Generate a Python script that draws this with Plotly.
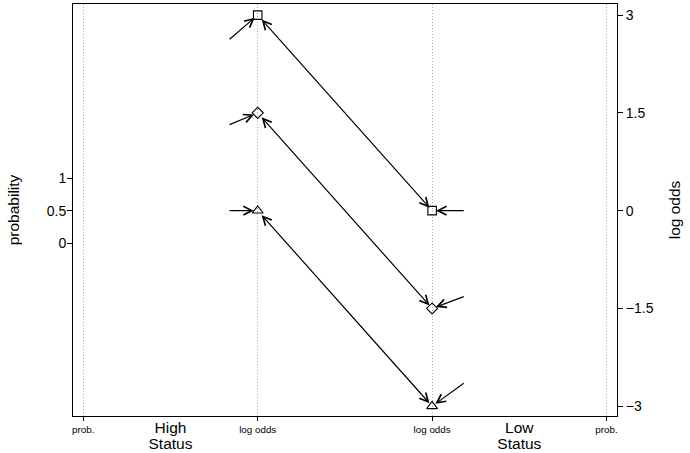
import plotly.graph_objects as go

# Data
x_pos = [0, 1, 2, 3]
x_labels = ["prob.", "log odds", "log odds", "prob."]
group_pos = [0.5, 2.5]
group_line1 = ["High", "Low"]
group_line2 = ["Status", "Status"]

series = ["square", "diamond", "triangle"]
symbols = ["square-open", "diamond-open", "triangle-up-open"]
high_logodds = [3.0, 1.5, 0.0]
low_logodds = [0.0, -1.5, -3.0]
# short incoming arrows: start points
high_in_x = 0.83
high_in_y = [2.61, 1.31, 0.0]
low_in_x = 2.19
low_in_y = [0.0, -1.31, -2.63]

logodds_ticks = [3, 1.5, 0, -1.5, -3]
logodds_ticktext = ["3", "1.5", "0", "\u22121.5", "\u22123"]
prob_ticks = [0, 0.5, 1]

y_range = [-3.15, 3.17]
x_range = [-0.059, 3.06]

FONT = "Liberation Sans, Arial, sans-serif"

fig = go.Figure()

for s, sym, hy, ly in zip(series, symbols, high_logodds, low_logodds):
    fig.add_trace(go.Scatter(
        x=[1, 2], y=[hy, ly], mode="markers",
        marker=dict(symbol=sym, size=8.5 if sym != "triangle-up-open" else 9.5,
                    color="black", line=dict(width=1.1, color="black")),
        showlegend=False, yaxis="y", xaxis="x", name=s, hoverinfo="skip"))

fig.add_trace(go.Scatter(x=[None], y=[None], yaxis="y2", xaxis="x", showlegend=False))
fig.add_trace(go.Scatter(x=[None], y=[None], yaxis="y", xaxis="x2", showlegend=False))
fig.add_trace(go.Scatter(x=[None], y=[None], yaxis="y", xaxis="x3", showlegend=False))

annots = []
for hy, ly, hiy, loy in zip(high_logodds, low_logodds, high_in_y, low_in_y):
    annots.append(dict(
        x=2, y=ly, ax=1, ay=hy, xref="x", yref="y", axref="x", ayref="y",
        text="", showarrow=True, arrowside="end+start",
        arrowhead=5, startarrowhead=5, arrowsize=1.4, startarrowsize=1.4,
        arrowwidth=1.2, arrowcolor="black", standoff=4, startstandoff=4))
    annots.append(dict(
        x=1, y=hy, ax=high_in_x, ay=hiy, xref="x", yref="y", axref="x", ayref="y",
        text="", showarrow=True, arrowhead=5, arrowsize=1.4,
        arrowwidth=1.2, arrowcolor="black", standoff=4))
    annots.append(dict(
        x=2, y=ly, ax=low_in_x, ay=loy, xref="x", yref="y", axref="x", ayref="y",
        text="", showarrow=True, arrowhead=5, arrowsize=1.4,
        arrowwidth=1.2, arrowcolor="black", standoff=4))

group_axis = dict(range=x_range, overlaying="x", side="bottom", anchor="y",
                  automargin=False, tickvals=group_pos, tickfont=dict(size=15.5),
                  ticks="", showgrid=False, showline=False, zeroline=False)

fig.update_layout(
    width=690, height=453,
    margin=dict(l=73, r=73, t=4, b=37),
    paper_bgcolor="white", plot_bgcolor="white",
    font=dict(family=FONT, color="black"),
    annotations=annots,
    hovermode=False,
    xaxis=dict(
        range=x_range, tickvals=x_pos, ticktext=x_labels, automargin=False,
        tickfont=dict(size=9.8), ticks="outside", ticklen=4, tickcolor="black",
        showgrid=True, griddash="1px,2px", gridcolor="#a8a8a8", gridwidth=1,
        showline=True, linecolor="black", linewidth=1, mirror=True,
        zeroline=False, fixedrange=True),
    xaxis2=dict(group_axis, ticktext=group_line1, ticklabelstandoff=0),
    xaxis3=dict(group_axis, ticktext=group_line2, ticklabelstandoff=16),
    yaxis=dict(
        range=y_range, side="right", tickvals=logodds_ticks, ticktext=logodds_ticktext,
        tickfont=dict(size=14), ticks="outside", ticklen=5, tickcolor="black",
        title=dict(text="log odds", font=dict(size=15.5), standoff=16), automargin=False,
        showgrid=False, zeroline=False, showline=True, linecolor="black",
        linewidth=1, mirror=True),
    yaxis2=dict(
        range=[y_range[0] + 0.5, y_range[1] + 0.5], overlaying="y", side="left",
        anchor="x", tickvals=prob_ticks, ticktext=["0", "0.5", "1"], automargin=False,
        tickfont=dict(size=14), ticks="outside", ticklen=5, tickcolor="black",
        title=dict(text="probability", font=dict(size=15.5), standoff=23),
        showgrid=False, zeroline=False, showline=False, ticklabelstandoff=-2),
)

fig.write_html("out.html", config={"displayModeBar": False, "staticPlot": True},
               post_script="document.body.style.margin='0';document.body.style.padding='0';")
